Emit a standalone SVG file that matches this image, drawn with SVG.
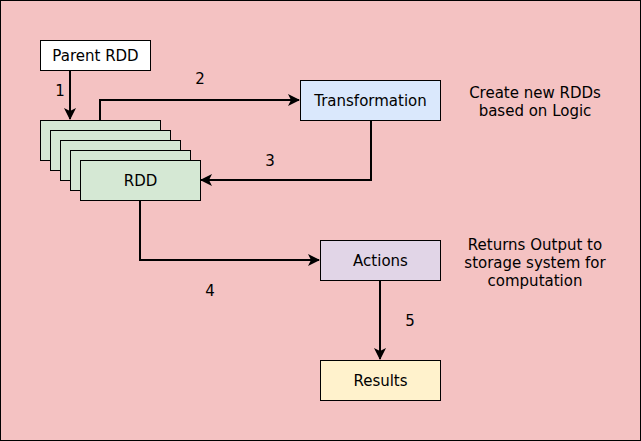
<svg xmlns="http://www.w3.org/2000/svg" width="641" height="441" viewBox="0 0 641 441">
<style>
text{font-family:"DejaVu Sans",Verdana,sans-serif;font-size:15px;fill:#000;text-anchor:middle}
.box{stroke:#000;stroke-width:1}
.rdd{fill:#d5e8d4}
.conn{fill:none;stroke:#000;stroke-width:2}
</style>
<defs>
<marker id="arr" viewBox="0 0 12 12" refX="11" refY="6" markerWidth="12" markerHeight="12" orient="auto" markerUnits="userSpaceOnUse">
<path d="M0,0 L12,6 L0,12 L3,6 Z" fill="#000"/>
</marker>
</defs>
<rect x="0.5" y="0.5" width="640" height="440" fill="#f4c2c2" stroke="#000" stroke-width="1"/>
<g id="parent-rdd">
<rect class="box" x="40.5" y="40.5" width="110" height="30" fill="#fff"/>
<text x="95.5" y="61">Parent RDD</text>
</g>
<g id="rdd">
<rect class="box rdd" x="40.5" y="120.5" width="120" height="40"/>
<rect class="box rdd" x="50.5" y="130.5" width="120" height="40"/>
<rect class="box rdd" x="60.5" y="140.5" width="120" height="40"/>
<rect class="box rdd" x="70.5" y="150.5" width="120" height="40"/>
<rect class="box rdd" x="80.5" y="160.5" width="120" height="40"/>
<text x="140.5" y="186">RDD</text>
</g>
<g id="transformation">
<rect class="box" x="300.5" y="80.5" width="140" height="40" fill="#dae8fc"/>
<text x="370.5" y="106">Transformation</text>
</g>
<g id="actions">
<rect class="box" x="320.5" y="240.5" width="120" height="40" fill="#e1d5e7"/>
<text x="380.5" y="266">Actions</text>
</g>
<g id="results">
<rect class="box" x="320.5" y="360.5" width="120" height="40" fill="#fff2cc"/>
<text x="380.5" y="386">Results</text>
</g>
<g id="note-transformation">
<text x="535" y="98">Create new RDDs</text>
<text x="535" y="116">based on Logic</text>
</g>
<g id="note-actions">
<text x="535" y="250">Returns Output to</text>
<text x="535" y="268">storage system for</text>
<text x="535" y="286">computation</text>
</g>
<g id="connectors">
<path class="conn" d="M70,71 V119" marker-end="url(#arr)"/>
<path class="conn" d="M100,120 V100 H299" marker-end="url(#arr)"/>
<path class="conn" d="M371,121 V180 H201" marker-end="url(#arr)"/>
<path class="conn" d="M140,201 V260 H319" marker-end="url(#arr)"/>
<path class="conn" d="M380,281 V359" marker-end="url(#arr)"/>
<text x="60" y="96">1</text>
<text x="200" y="84">2</text>
<text x="270" y="166">3</text>
<text x="210" y="296">4</text>
<text x="410" y="326">5</text>
</g>
</svg>
